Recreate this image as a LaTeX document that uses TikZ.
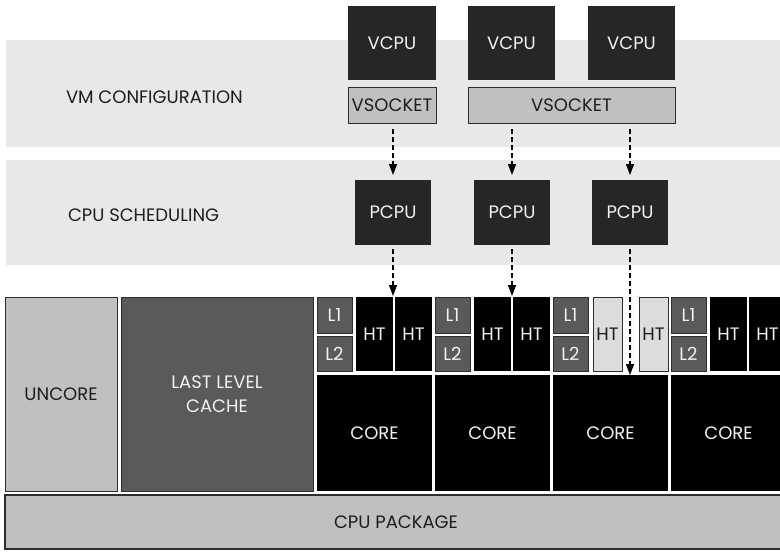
\documentclass[tikz,border=0pt]{standalone}
\usepackage{fontspec}
\setmainfont{Poppins}
\usetikzlibrary{arrows.meta}
\definecolor{bandgray}{HTML}{E8E8E8}
\definecolor{boxdark}{HTML}{262626}
\definecolor{midgray}{HTML}{C0C0C0}
\definecolor{cachegray}{HTML}{5A5A5A}
\definecolor{htlight}{HTML}{DCDCDC}
\definecolor{edgegray}{HTML}{2E2E2E}
\definecolor{textlight}{HTML}{F2F2F2}
\definecolor{textdark}{HTML}{1E1E1E}
\begin{document}
\begin{tikzpicture}[x=1pt,y=-1pt,>={Triangle[length=11pt,width=8pt]},
		every node/.style={inner sep=0pt,outer sep=0pt,font=\fontsize{18}{24}\selectfont},
		sz/.style 2 args={minimum width=#1pt,minimum height=#2pt},
		darkbox/.style={fill=boxdark,text=textlight},
		greybox/.style={fill=midgray,draw=edgegray,line width=0.9pt,text=textdark},
		cachebox/.style={fill=cachegray,draw=edgegray,line width=0.9pt,text=textlight},
		htbox/.style={fill=black,text=textlight,sz={37}{74}},
		htoff/.style={fill=htlight,draw=edgegray,line width=0.9pt,text=textdark,sz={29}{74}},
		corebox/.style={fill=black,text=textlight,sz={115}{116}},
		link/.style={->,line width=1.3pt,dash pattern=on 5pt off 3pt}]
	\useasboundingbox (0,0) rectangle (780,552);
	\clip (0,0) rectangle (780,552);
	% layers
	\fill[bandgray] (6,40) rectangle (790,147);
	\fill[bandgray] (6,160) rectangle (790,265);
	\node[anchor=west,text=textdark] (cfg) at (66,97) {VM CONFIGURATION};
	\node[anchor=west,text=textdark] (sched) at (68,215) {CPU SCHEDULING};
	% virtual machine
	\node[darkbox,sz={88}{74}] (v1) at (392,43) {VCPU};
	\node[darkbox,sz={87}{74}] (v2) at (511.5,43) {VCPU};
	\node[darkbox,sz={87}{74}] (v3) at (631.5,43) {VCPU};
	\node[greybox,sz={88}{36}] (vs1) at (392,105) {VSOCKET};
	\node[greybox,sz={207}{36}] (vs2) at (571.5,105) {VSOCKET};
	% scheduler
	\node[darkbox,sz={76}{65}] (p1) at (393,212.5) {PCPU};
	\node[darkbox,sz={76}{65}] (p2) at (512,212.5) {PCPU};
	\node[darkbox,sz={76}{65}] (p3) at (630,212.5) {PCPU};
	% physical package
	\node[greybox,sz={112}{194}] (uncore) at (61,394) {UNCORE};
	\node[cachebox,sz={192}{194},align=center] (llc) at (217,394) {LAST LEVEL\\CACHE};
	\node[greybox,sz={782}{54},line width=1.4pt] (pkg) at (396,522) {CPU PACKAGE};
	% core 1
	\node[cachebox,sz={35}{36}] (l1a) at (334.5,315) {L1};
	\node[cachebox,sz={35}{35}] (l2a) at (334.5,353.5) {L2};
	\node[htbox] (ht1) at (374.5,334) {HT};
	\node[htbox] (ht2) at (413.5,334) {HT};
	\node[corebox] (c1) at (374.5,433) {CORE};
	% core 2
	\node[cachebox,sz={35}{36}] (l1b) at (452.5,315) {L1};
	\node[cachebox,sz={35}{35}] (l2b) at (452.5,353.5) {L2};
	\node[htbox] (ht3) at (492.5,334) {HT};
	\node[htbox] (ht4) at (531.5,334) {HT};
	\node[corebox] (c2) at (492.5,433) {CORE};
	% core 3
	\node[cachebox,sz={35}{36}] (l1c) at (570.5,315) {L1};
	\node[cachebox,sz={35}{35}] (l2c) at (570.5,353.5) {L2};
	\node[htoff] (ht5) at (607.5,334) {HT};
	\node[htoff] (ht6) at (653.5,334) {HT};
	\node[corebox] (c3) at (610.5,433) {CORE};
	% core 4
	\node[cachebox,sz={35}{36}] (l1d) at (688.5,315) {L1};
	\node[cachebox,sz={35}{35}] (l2d) at (688.5,353.5) {L2};
	\node[htbox] (ht7) at (728.5,334) {HT};
	\node[htbox] (ht8) at (767.5,334) {HT};
	\node[corebox] (c4) at (728.5,433) {CORE};
	% mappings
	\draw[link,shorten <=6pt,shorten >=5pt] (vs1.south -| p1.north) -- (p1.north);
	\draw[link,shorten <=6pt,shorten >=5pt] (vs2.south -| p2.north) -- (p2.north);
	\draw[link,shorten <=6pt,shorten >=5pt] (vs2.south -| p3.north) -- (p3.north);
	\draw[link,shorten <=4pt,shorten >=1pt] (p1.south) -- (p1.south |- ht1.north);
	\draw[link,shorten <=4pt,shorten >=1pt] (p2.south) -- (p2.south |- ht3.north);
	\draw[link,shorten <=4pt] (p3.south) -- (p3.south |- c3.north);
\end{tikzpicture}
\end{document}
